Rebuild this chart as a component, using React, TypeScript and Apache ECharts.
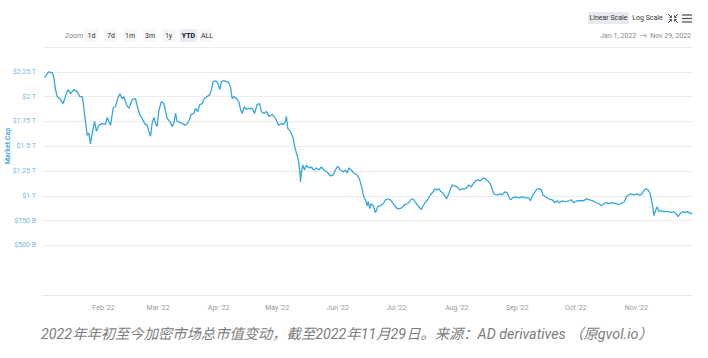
import React, { useEffect, useRef } from "react";
import * as echarts from "echarts";

const days: number[] = [
  0.8, 2.8, 4.7, 5.5, 6.4, 7.3, 9.0, 10.3, 11.5, 12.7, 14.1, 15.8, 17.5, 18.9, 20.1, 20.6, 21.3, 22.1, 22.6, 23.5,
  24.3, 25.2, 26.4, 27.4, 28.6, 30.3, 32.0, 32.9, 33.7, 34.6, 36.0, 37.1, 38.3, 39.3, 40.6, 41.4, 42.8, 44.0, 45.7, 47.4,
  48.6, 49.6, 50.8, 52.0, 53.4, 54.2, 55.1, 55.9, 56.8, 57.6, 58.5, 59.3, 60.6, 61.9, 62.8, 63.6, 65.0, 66.2, 67.0, 67.9,
  68.7, 70.1, 71.3, 73.0, 74.7, 75.9, 77.3, 78.1, 79.3, 80.3, 81.6, 82.7, 84.1, 85.5, 86.3, 87.2, 88.4, 89.5, 90.6, 91.4,
  92.6, 94.0, 95.2, 96.1, 96.9, 97.7, 99.1, 100.3, 101.2, 102.0, 103.2, 104.3, 105.4, 107.2, 108.4, 109.7, 110.9, 111.9, 113.1, 114.5,
  115.7, 117.4, 119.1, 120.8, 122.0, 123.2, 124.2, 124.7, 125.4, 126.8, 128.2, 128.8, 129.7, 130.2, 131.0, 131.6, 131.9, 132.4, 133.1, 134.0,
  135.0, 136.2, 137.4, 138.7, 140.1, 141.3, 142.5, 143.9, 145.6, 147.3, 148.7, 149.8, 151.0, 152.4, 153.8, 155.0, 155.8, 156.7, 157.9, 159.2,
  161.0, 162.3, 163.5, 164.3, 165.2, 166.1, 166.6, 167.4, 168.1, 169.2, 170.3, 171.5, 172.9, 174.3, 175.5, 176.6, 178.0, 179.4, 180.6, 181.5,
  182.8, 184.0, 185.2, 186.6, 187.9, 188.8, 190.0, 191.3, 192.5, 193.7, 194.8, 196.0, 197.1, 198.5, 199.9, 200.7, 201.9, 202.8, 204.0, 205.3,
  206.7, 207.9, 208.8, 209.6, 210.8, 212.2, 213.5, 214.8, 215.9, 217.0, 218.1, 219.4, 220.4, 221.6, 222.8, 224.1, 225.5, 226.7, 227.9, 229.2,
  230.1, 230.9, 231.8, 233.0, 234.0, 235.2, 236.6, 237.8, 238.6, 239.5, 240.7, 242.0, 243.7, 245.5, 247.2, 248.9, 249.7, 250.6, 252.0, 253.2,
  254.4, 255.4, 256.0, 257.4, 259.1, 260.9, 262.2, 263.4, 264.6, 266.0, 267.7, 269.4, 270.7, 271.9, 273.7, 275.4, 277.0, 278.3, 280.0, 281.7,
  283.4, 284.8, 286.1, 287.3, 288.2, 289.8, 291.6, 293.3, 295.0, 296.7, 297.9, 298.9, 300.1, 301.3, 302.7, 304.1, 305.2, 306.5, 307.8, 309.0,
  310.0, 310.9, 311.6, 312.3, 313.0, 313.8, 314.7, 315.5, 316.7, 318.0, 319.4, 320.5, 321.7, 323.1, 324.4, 325.3, 326.4, 327.8, 328.9, 330.1,
  331.1, 331.8, 332.5,
];

// Total crypto market cap, trillions of USD
const capT: number[] = [
  2.19, 2.25, 2.24, 2.20, 2.07, 2.00, 1.97, 1.93, 2.00, 2.07, 2.03, 2.07, 2.05, 2.00, 2.00, 1.94, 1.82, 1.70, 1.61, 1.63,
  1.52, 1.63, 1.75, 1.65, 1.71, 1.73, 1.72, 1.79, 1.75, 1.71, 1.89, 1.90, 1.98, 2.03, 1.98, 2.00, 1.92, 1.88, 1.97, 1.98,
  1.88, 1.82, 1.78, 1.73, 1.71, 1.65, 1.60, 1.73, 1.79, 1.73, 1.70, 1.85, 1.95, 1.93, 1.85, 1.78, 1.75, 1.70, 1.73, 1.83,
  1.75, 1.74, 1.73, 1.71, 1.75, 1.82, 1.83, 1.88, 1.85, 1.92, 1.93, 1.98, 2.00, 2.02, 2.07, 2.15, 2.16, 2.14, 2.07, 2.15,
  2.16, 2.15, 2.14, 2.09, 1.98, 2.00, 1.98, 1.95, 1.87, 1.83, 1.90, 1.87, 1.88, 1.88, 1.83, 1.92, 1.93, 1.85, 1.83, 1.85,
  1.80, 1.82, 1.78, 1.71, 1.73, 1.72, 1.75, 1.80, 1.68, 1.65, 1.58, 1.51, 1.44, 1.41, 1.34, 1.24, 1.14, 1.24, 1.31, 1.26,
  1.31, 1.28, 1.29, 1.26, 1.28, 1.26, 1.29, 1.26, 1.24, 1.20, 1.21, 1.26, 1.30, 1.26, 1.24, 1.26, 1.23, 1.28, 1.26, 1.23,
  1.21, 1.16, 1.07, 0.99, 0.96, 0.90, 0.94, 0.87, 0.92, 0.90, 0.83, 0.89, 0.90, 0.92, 0.96, 0.97, 0.96, 0.92, 0.89, 0.87,
  0.87, 0.88, 0.91, 0.92, 0.94, 0.97, 0.96, 0.92, 0.89, 0.86, 0.90, 0.94, 0.96, 1.01, 1.04, 1.07, 1.06, 1.07, 1.04, 1.02,
  0.97, 1.02, 1.07, 1.11, 1.10, 1.09, 1.06, 1.07, 1.07, 1.08, 1.11, 1.09, 1.12, 1.15, 1.16, 1.15, 1.18, 1.17, 1.15, 1.12,
  1.07, 1.02, 1.01, 1.01, 1.02, 1.01, 1.04, 1.03, 0.99, 0.96, 0.98, 0.99, 0.98, 0.99, 0.98, 0.98, 0.95, 0.99, 1.04, 1.07,
  1.07, 1.06, 1.01, 0.99, 0.97, 0.96, 0.93, 0.95, 0.93, 0.95, 0.94, 0.95, 0.96, 0.93, 0.95, 0.95, 0.95, 0.97, 0.96, 0.95,
  0.93, 0.92, 0.90, 0.92, 0.93, 0.92, 0.93, 0.92, 0.91, 0.93, 0.94, 0.99, 1.01, 1.02, 1.01, 1.02, 1.01, 1.01, 1.05, 1.07,
  1.06, 1.03, 0.97, 0.90, 0.80, 0.85, 0.89, 0.84, 0.85, 0.84, 0.84, 0.84, 0.83, 0.84, 0.82, 0.79, 0.82, 0.84, 0.83, 0.84,
  0.83, 0.82, 0.83,
];

const zoomButtons: string[] = ["1d", "7d", "1m", "3m", "1y", "YTD", "ALL"];
const monthNames: string[] = ["Jan", "Feb", "Mar", "Apr", "May", "Jun", "Jul", "Aug", "Sep", "Oct", "Nov", "Dec"];
const caption = "2022年年初至今加密市场总市值变动，截至2022年11月29日。来源：AD derivatives （原gvol.io）";
const dateRange = "Jan 1, 2022  →  Nov 29, 2022";

const FONT = "Roboto, 'Noto Sans', 'Noto Sans CJK SC', sans-serif";

export default function App() {
  const ref = useRef<HTMLDivElement>(null);
  useEffect(() => {
    if (!ref.current) return;
    const chart = echarts.init(ref.current, null, { renderer: "svg" });
    const base = new Date(2022, 0, 1).getTime();
    const DAY = 86400000;
    const data = days.map((d, i) => [base + d * DAY, capT[i]]);

    const btnX = [85, 105, 123, 143, 162, 180, 201];
    const btnW = [13, 12, 14, 14, 13, 17, 12];
    const buttons: any[] = [];
    zoomButtons.forEach((b, i) => {
      const sel = b === "YTD";
      buttons.push({
        type: "rect",
        shape: { x: btnX[i], y: 29, width: btnW[i], height: 13, r: 2 },
        style: { fill: sel ? "#e6ebf5" : "#f7f7f7" },
      });
      buttons.push({
        type: "text",
        x: btnX[i] + btnW[i] / 2,
        y: 35.5,
        style: {
          text: b,
          fill: sel ? "#111" : "#333",
          fontSize: 7,
          fontWeight: sel ? "bold" : "normal",
          fontFamily: FONT,
          align: "center",
          verticalAlign: "middle",
        },
      });
    });

    const gridColors = Array.from({ length: 11 }, (_, i) => (i < 2 ? "transparent" : "#ececec"));
    const iconStyle = { stroke: "#555", fill: "none", lineWidth: 1 };

    chart.setOption({
      animation: false,
      title: {
        text: caption,
        left: 36,
        top: 322,
        textStyle: {
          fontSize: 14.3,
          fontStyle: "italic",
          fontWeight: "normal",
          color: "#7d7d7d",
          fontFamily: FONT,
        },
      },
      grid: { left: 43, right: 16, top: 47, bottom: 63 },
      xAxis: {
        type: "time",
        min: base,
        max: base + days[days.length - 1] * DAY,
        minInterval: 27 * DAY,
        maxInterval: 32 * DAY,
        axisLine: { show: true, lineStyle: { color: "#e6e6e6", width: 1 } },
        axisTick: { show: false },
        splitLine: { show: false },
        axisLabel: {
          color: "#9a9a9a",
          fontSize: 7,
          fontFamily: FONT,
          margin: 9,
          showMinLabel: false,
          formatter: (v: number) => {
            const d = new Date(v);
            if (d.getDate() !== 1 || d.getMonth() === 0) return "";
            return monthNames[d.getMonth()] + " '22";
          },
        },
      },
      yAxis: {
        type: "value",
        min: 0,
        max: 2.5,
        interval: 0.25,
        axisLine: { show: false },
        axisTick: { show: false },
        splitLine: { show: true, lineStyle: { color: gridColors, width: 1 } },
        axisLabel: {
          color: "#74b9e8",
          fontSize: 7,
          fontFamily: FONT,
          margin: 7,
          formatter: (v: number) => {
            if (v < 0.5 || v > 2.3) return "";
            if (v >= 1) return "$" + v + " T";
            return "$" + Math.round(v * 1000) + " B";
          },
        },
      },
      series: [
        {
          type: "line",
          data,
          showSymbol: false,
          symbol: "none",
          lineStyle: { color: "#36a6e2", width: 1.3 },
          itemStyle: { color: "#36a6e2" },
        },
      ],
      graphic: [
        {
          type: "text",
          x: 8,
          y: 146,
          rotation: Math.PI / 2,
          style: {
            text: "Market Cap",
            fill: "#4aa9e6",
            fontSize: 7,
            fontWeight: "bold",
            fontFamily: FONT,
            align: "center",
            verticalAlign: "middle",
          },
        },
        {
          type: "text",
          x: 65,
          y: 35.5,
          style: { text: "Zoom", fill: "#8a8a8a", fontSize: 7, fontFamily: FONT, verticalAlign: "middle" },
        },
        ...buttons,
        {
          type: "rect",
          shape: { x: 588, y: 12, width: 41, height: 12, r: 1 },
          style: { fill: "#e7eaee" },
        },
        {
          type: "text",
          x: 608.5,
          y: 18,
          style: {
            text: "Linear Scale",
            fill: "#333",
            fontSize: 7,
            fontFamily: FONT,
            align: "center",
            verticalAlign: "middle",
          },
        },
        {
          type: "text",
          x: 647.5,
          y: 18,
          style: {
            text: "Log Scale",
            fill: "#333",
            fontSize: 7,
            fontFamily: FONT,
            align: "center",
            verticalAlign: "middle",
          },
        },
        // fullscreen (exit) icon: four inward corner arrows
        { type: "line", shape: { x1: 668, y1: 14, x2: 671.5, y2: 17.5 }, style: iconStyle },
        { type: "polyline", shape: { points: [[669.5, 17.5], [671.5, 17.5], [671.5, 15.5]] }, style: iconStyle },
        { type: "line", shape: { x1: 678, y1: 14, x2: 674.5, y2: 17.5 }, style: iconStyle },
        { type: "polyline", shape: { points: [[676.5, 17.5], [674.5, 17.5], [674.5, 15.5]] }, style: iconStyle },
        { type: "line", shape: { x1: 668, y1: 23, x2: 671.5, y2: 19.5 }, style: iconStyle },
        { type: "polyline", shape: { points: [[669.5, 19.5], [671.5, 19.5], [671.5, 21.5]] }, style: iconStyle },
        { type: "line", shape: { x1: 678, y1: 23, x2: 674.5, y2: 19.5 }, style: iconStyle },
        { type: "polyline", shape: { points: [[676.5, 19.5], [674.5, 19.5], [674.5, 21.5]] }, style: iconStyle },
        // hamburger
        { type: "line", shape: { x1: 682, y1: 15, x2: 692, y2: 15 }, style: { stroke: "#555", lineWidth: 1.3 } },
        { type: "line", shape: { x1: 682, y1: 18.5, x2: 692, y2: 18.5 }, style: { stroke: "#555", lineWidth: 1.3 } },
        { type: "line", shape: { x1: 682, y1: 22, x2: 692, y2: 22 }, style: { stroke: "#555", lineWidth: 1.3 } },
        {
          type: "text",
          x: 691,
          y: 35.5,
          style: {
            text: dateRange,
            fill: "#8a8a8a",
            fontSize: 7,
            fontFamily: FONT,
            align: "right",
            verticalAlign: "middle",
          },
        },
      ],
    });
    return () => chart.dispose();
  }, []);

  return (
    <div
      ref={ref}
      style={{ position: "fixed", left: 0, top: 0, width: 708, height: 358, background: "#fff" }}
    />
  );
}
